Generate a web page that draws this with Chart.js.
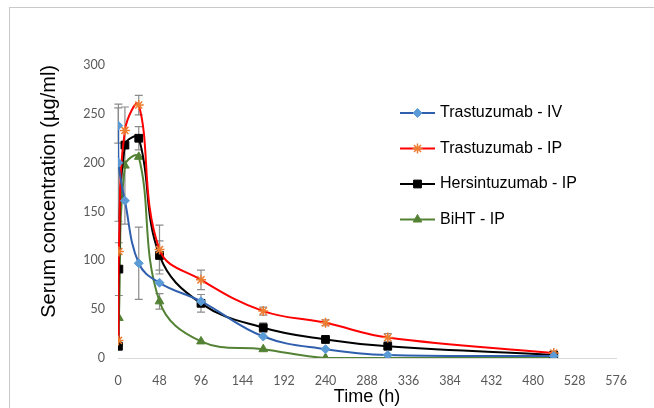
<!DOCTYPE html>
<html>
<head>
<meta charset="utf-8">
<script src="https://cdn.jsdelivr.net/npm/chart.js@4/dist/chart.umd.min.js"></script>
<style>
  html, body { margin: 0; padding: 0; background: #fff; }
  #wrap { position: relative; width: 654px; height: 408px; }
  #frame { position: absolute; left: 9px; top: 7px; width: 700px; height: 500px;
           border-left: 1px solid #c9c9c9; border-top: 1px solid #c9c9c9; pointer-events: none; }
</style>
</head>
<body>
<div id="wrap">
  <canvas id="pkChart" width="654" height="408"></canvas>
  <div id="frame"></div>
</div>
<script>
// time points (h)
const timesIV = [0.25, 0.5, 8, 24, 48, 96, 168, 240, 312, 504];
const timesIP = [0.5, 1, 8, 24, 48, 96, 168, 240, 312, 504];

// serum concentration (µg/ml)
const trastuzumabIV = [238, 200, 161, 97, 77, 58, 22, 9, 3, 2];
const trastuzumabIP = [18, 109, 233, 259, 111, 80, 48, 36, 21, 5];
const hersintuzumabIP = [12, 91, 218, 225, 105, 56, 31, 19, 12, 3];
const bihtIP = [16, 41, 197, 206, 58, 17, 9, 0, 0, 0];

// error bars (± µg/ml)
const errTrastuzumabIV = [18, 60, 0, 37, 0, 0, 0, 0, 0, 0];
const errTrastuzumabIP = [0, 0, 0, 10, 25, 10, 4, 3, 4, 0];
const errHersintuzumabIP = [0, 27, 0, 12, 15, 9, 5, 0, 0, 0];
const errBihtIP = [0, 0, 60, 0, 8, 0, 0, 0, 0, 0];

const seriesNames = ['Trastuzumab - IV', 'Trastuzumab - IP', 'Hersintuzumab - IP', 'BiHT - IP'];
const xTicks = [0, 48, 96, 144, 192, 240, 288, 336, 384, 432, 480, 528, 576];

function toPoints(xs, ys) {
    return xs.map((x, i) => ({ x: x, y: ys[i] }));
}

const errorBars = {
    id: 'errorBars',
    beforeDatasetsDraw(chart) {
        const ctx = chart.ctx;
        const xs = chart.scales.x, ys = chart.scales.y;
        ctx.save();
        ctx.strokeStyle = '#8c8c8c';
        ctx.lineWidth = 1.2;
        chart.data.datasets.forEach(ds => {
            ds.errors.forEach((e, i) => {
                if (!e) return;
                const p = ds.data[i];
                const x = xs.getPixelForValue(p.x);
                const y1 = ys.getPixelForValue(p.y + e);
                const y2 = ys.getPixelForValue(Math.max(0, p.y - e));
                ctx.beginPath();
                ctx.moveTo(x, y1); ctx.lineTo(x, y2);
                ctx.moveTo(x - 4, y1); ctx.lineTo(x + 4, y1);
                ctx.moveTo(x - 4, y2); ctx.lineTo(x + 4, y2);
                ctx.stroke();
            });
        });
        ctx.restore();
    }
};

const sideLegend = {
    id: 'sideLegend',
    afterDraw(chart) {
        const ctx = chart.ctx;
        ctx.save();
        chart.data.datasets.forEach((ds, i) => {
            const y = 113 + i * 35.5;
            ctx.strokeStyle = ds.borderColor;
            ctx.lineWidth = 2;
            ctx.beginPath();
            ctx.moveTo(400, y); ctx.lineTo(435, y);
            ctx.stroke();
            ctx.fillStyle = ds.pointBackgroundColor;
            ctx.strokeStyle = ds.pointBorderColor;
            ctx.lineWidth = ds.pointBorderWidth;
            Chart.helpers.drawPoint(ctx, { pointStyle: ds.pointStyle, radius: ds.pointRadius, rotation: 0, borderWidth: ds.pointBorderWidth }, 417.5, y);
            ctx.fillStyle = '#000';
            ctx.font = '16px "Liberation Sans", Arial, sans-serif';
            ctx.textBaseline = 'middle';
            ctx.textAlign = 'left';
            ctx.fillText(ds.label, 440, y);
        });
        ctx.restore();
    }
};

new Chart(document.getElementById('pkChart'), {
    type: 'line',
    data: {
        datasets: [{
            label: seriesNames[0],
            data: toPoints(timesIV, trastuzumabIV),
            errors: errTrastuzumabIV,
            borderColor: '#2f5fad',
            borderWidth: 2,
            pointStyle: 'rectRot',
            pointRadius: 4.5,
            pointBackgroundColor: '#5b9bd5',
            pointBorderColor: '#5b9bd5',
            pointBorderWidth: 1
        }, {
            label: seriesNames[1],
            data: toPoints(timesIP, trastuzumabIP),
            errors: errTrastuzumabIP,
            borderColor: '#ff0000',
            borderWidth: 2,
            pointStyle: 'star',
            pointRadius: 5,
            pointBackgroundColor: '#ed7d31',
            pointBorderColor: '#ed7d31',
            pointBorderWidth: 1.5
        }, {
            label: seriesNames[2],
            data: toPoints(timesIP, hersintuzumabIP),
            errors: errHersintuzumabIP,
            borderColor: '#000000',
            borderWidth: 2,
            pointStyle: 'rect',
            pointRadius: 5.5,
            pointBackgroundColor: '#000000',
            pointBorderColor: '#000000',
            pointBorderWidth: 1
        }, {
            label: seriesNames[3],
            data: toPoints(timesIP, bihtIP),
            errors: errBihtIP,
            borderColor: '#548235',
            borderWidth: 2,
            pointStyle: 'triangle',
            pointRadius: 5,
            pointBackgroundColor: '#548235',
            pointBorderColor: '#548235',
            pointBorderWidth: 1
        }]
    },
    options: {
        responsive: false,
        animation: false,
        tension: 0.4,
        layout: { padding: { left: 0, right: 38, top: 65, bottom: 0 } },
        elements: { line: { tension: 0.4 } },
        plugins: {
            legend: { display: false },
            tooltip: { enabled: false }
        },
        scales: {
            x: {
                type: 'linear',
                min: 0,
                max: 576,
                afterFit(scale) { scale.height = 50; },
                afterBuildTicks(scale) { scale.ticks = xTicks.map(v => ({ value: v })); },
                grid: { display: false, drawTicks: false },
                border: { display: true, color: '#d9d9d9', width: 1 },
                ticks: { padding: 15, color: '#595959', font: { family: 'Lato, "Open Sans", sans-serif', size: 12.5 }, maxRotation: 0 },
                title: {
                    display: true,
                    text: 'Time (h)',
                    color: '#000',
                    font: { family: '"Liberation Sans", Arial, sans-serif', size: 18 },
                    padding: { top: 0, bottom: 0 }
                }
            },
            y: {
                min: 0,
                max: 300,
                afterFit(scale) { scale.width = 118; },
                grid: { display: false, drawTicks: false },
                border: { display: false },
                ticks: { stepSize: 50, padding: 13, color: '#595959', font: { family: 'Lato, "Open Sans", sans-serif', size: 12.5 } },
                title: {
                    display: true,
                    text: 'Serum concentration (µg/ml)',
                    align: 'end',
                    color: '#000',
                    font: { family: '"Liberation Sans", Arial, sans-serif', size: 20 },
                    padding: { top: 37, bottom: 0 }
                }
            }
        }
    },
    plugins: [errorBars, sideLegend]
});
</script>
</body>
</html>
